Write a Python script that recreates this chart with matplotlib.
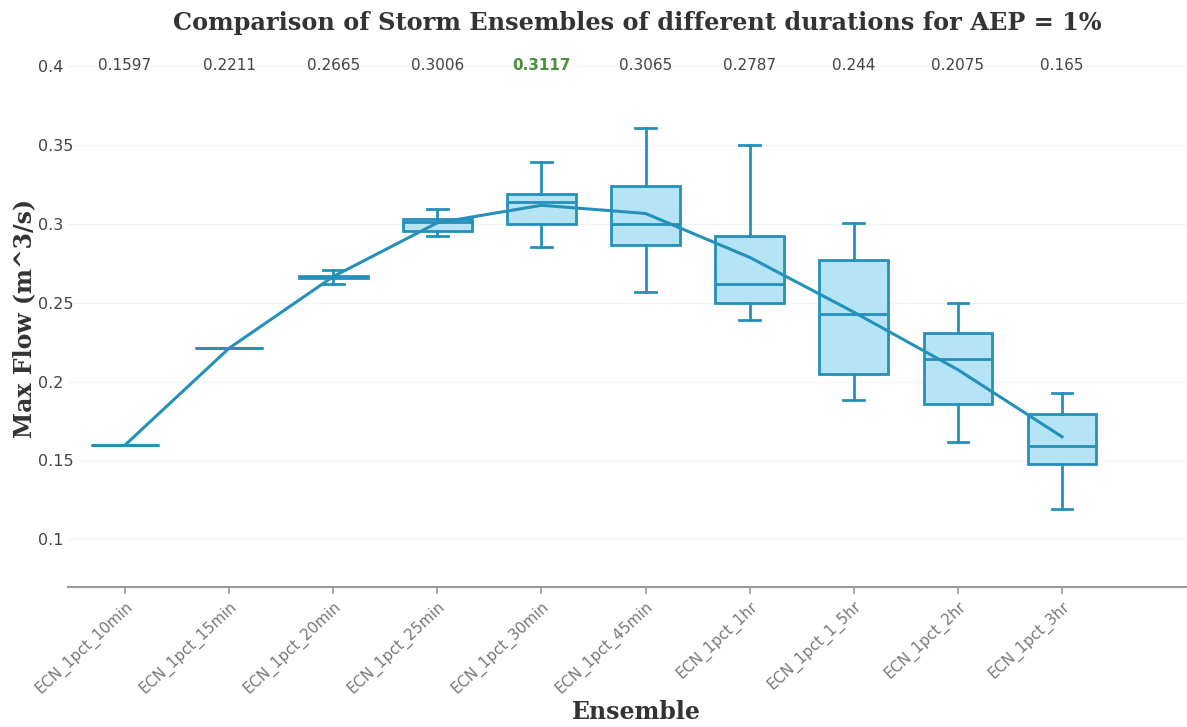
import numpy as np
import matplotlib
matplotlib.use("Agg")
import matplotlib.pyplot as plt

# storm ensembles
ensembles = ["ECN_1pct_10min", "ECN_1pct_15min", "ECN_1pct_20min", "ECN_1pct_25min",
             "ECN_1pct_30min", "ECN_1pct_45min", "ECN_1pct_1hr", "ECN_1pct_1_5hr",
             "ECN_1pct_2hr", "ECN_1pct_3hr"]
means = [0.1597, 0.2211, 0.2665, 0.3006, 0.3117, 0.3065, 0.2787, 0.244, 0.2075, 0.165]
whislo = [0.1597, 0.2211, 0.2615, 0.2924, 0.285, 0.257, 0.239, 0.1884, 0.162, 0.119]
q1 = [0.1597, 0.2211, 0.2655, 0.2956, 0.300, 0.2867, 0.250, 0.2048, 0.1859, 0.148]
med = [0.1597, 0.2211, 0.2662, 0.301, 0.314, 0.300, 0.262, 0.243, 0.2143, 0.1594]
q3 = [0.1597, 0.2211, 0.2668, 0.303, 0.319, 0.324, 0.292, 0.277, 0.2307, 0.1796]
whishi = [0.1597, 0.2211, 0.271, 0.3095, 0.339, 0.3605, 0.350, 0.3006, 0.2495, 0.193]

edge = "#2590ba"
fill = "#b5e4f6"
serif = ["DejaVu Serif"]

fig = plt.figure(figsize=(11.87, 7.27), dpi=100)
ax = fig.add_axes([0.057, 0.193, 0.943, 0.738])

pos = np.arange(len(ensembles))
stats = []
for i in range(len(ensembles)):
    stats.append({"whislo": whislo[i], "q1": q1[i], "med": med[i], "q3": q3[i],
                  "whishi": whishi[i], "mean": means[i], "fliers": []})

ax.bxp(stats, positions=pos, widths=0.66, patch_artist=True, showmeans=False,
       showfliers=False,
       boxprops=dict(facecolor=fill, edgecolor=edge, linewidth=2),
       medianprops=dict(color=edge, linewidth=2),
       whiskerprops=dict(color=edge, linewidth=2),
       capprops=dict(color=edge, linewidth=2), capwidths=0.2)

ax.plot(pos, means, color=edge, linewidth=2.2, zorder=5)

# mean labels along the top
top_val = 0.4
imax = int(np.argmax(means))
for i, m in enumerate(means):
    if i == imax:
        ax.text(pos[i], top_val, str(m), ha="center", va="center", fontsize=11,
                color="#4a8f3c", fontweight="bold")
    else:
        ax.text(pos[i], top_val, str(m), ha="center", va="center", fontsize=11,
                color="#444444")

ax.set_xlim(-0.55, 10.2)
ax.set_ylim(0.07, 0.41)
ax.set_yticks([0.1, 0.15, 0.2, 0.25, 0.3, 0.35, 0.4])
ax.set_yticklabels(["0.1", "0.15", "0.2", "0.25", "0.3", "0.35", "0.4"])
ax.tick_params(axis="y", length=0, pad=21, labelsize=11.5, labelcolor="#444444")
for lab in ax.get_yticklabels():
    lab.set_horizontalalignment("left")
ax.yaxis.grid(True, color="#f3f3f3", linewidth=0.8)
ax.set_axisbelow(True)

ax.set_xticks(pos)
ax.set_xticklabels(ensembles, rotation=43, ha="right", rotation_mode="anchor",
                   fontsize=10.8, color="#777777")
ax.tick_params(axis="x", length=5, color="#999999", width=1.2)

for s in ["top", "right", "left"]:
    ax.spines[s].set_visible(False)
ax.spines["bottom"].set_color("#999999")
ax.spines["bottom"].set_linewidth(1.5)

ax.set_ylabel("Max Flow (m^3/s)", family=serif, fontweight="bold", fontsize=17,
              color="#333333")
ax.yaxis.set_label_coords(-0.028, 0.5)
ax.set_xlabel("Ensemble", family=serif, fontweight="bold", fontsize=17, color="#333333")
ax.xaxis.set_label_coords(0.508, -0.212)

fig.text(0.537, 0.968, "Comparison of Storm Ensembles of different durations for AEP = 1%",
         ha="center", va="center", family=serif, fontweight="bold", fontsize=17.3,
         color="#333333")

fig.savefig("out.png", dpi=100)
